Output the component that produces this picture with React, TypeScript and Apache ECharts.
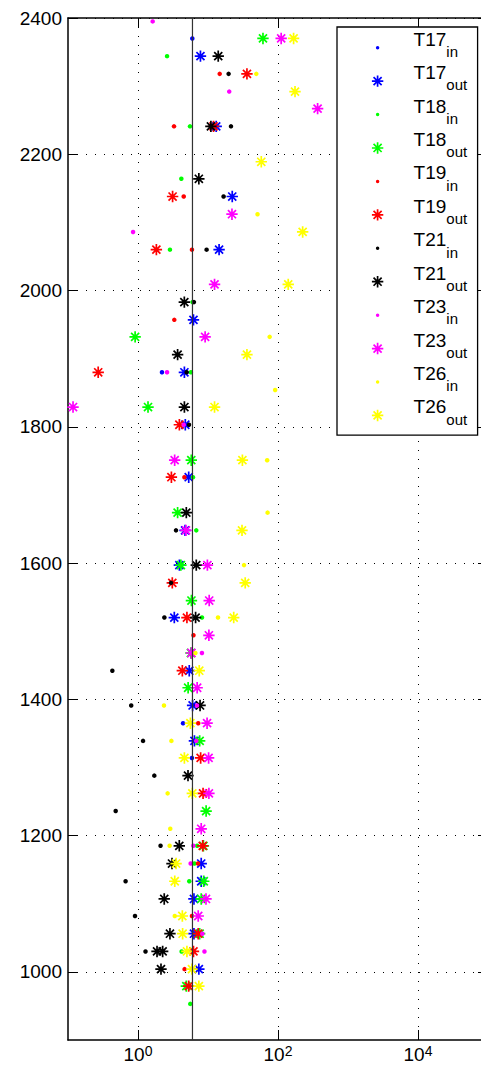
import React, { useEffect, useRef } from "react";
import * as echarts from "echarts";

// ---- data: [value, depth] ----
const SERIES_NAMES = ["T17in", "T17out", "T18in", "T18out", "T19in", "T19out", "T21in", "T21out", "T23in", "T23out", "T26in", "T26out"];
const SERIES_COLORS = ["#0000ff", "#0000ff", "#00ff00", "#00ff00", "#ff0000", "#ff0000", "#000000", "#000000", "#ff00ff", "#ff00ff", "#ffff00", "#ffff00"];

const T17_IN = [[5.97, 2370], [2.2, 1880], [4.4, 1365], [5.9, 1314]];
const T17_OUT = [[7.8, 2344], [13.1, 2241], [22.2, 2138], [14.4, 2060], [6.2, 1957], [4.6, 1880], [4.74, 1803], [5.3, 1726], [4.7, 1648], [3.9, 1597], [3.3, 1520], [5.4, 1442], [6.03, 1391], [6.4, 1339], [8.0, 1159], [8.0, 1133], [6.3, 1107], [6.3, 1056], [7.4, 1004]];
const T18_IN = [[2.6, 2344], [5.53, 2241], [4.16, 2164], [2.86, 2060], [6.0, 1983], [5.7, 1880], [6.1, 1726], [6.8, 1648], [8.2, 1520], [7.0, 1185], [6.4, 1159], [5.4, 1133], [4.2, 1030], [5.58, 953]];
const T18_OUT = [[61, 2370], [0.91, 1932], [1.39, 1829], [5.77, 1751], [3.68, 1674], [4.1, 1597], [5.8, 1545], [5.7, 1468], [5.2, 1417], [7.6, 1339], [9.4, 1236], [8.6, 1185], [8.7, 1133], [8.0, 1107], [7.6, 1056], [4.9, 979]];
const T19_IN = [[14.7, 2318], [3.27, 2241], [4.5, 2138], [5.9, 2060], [3.3, 1957], [4.6, 1726], [6.2, 1494], [7.25, 1365], [7.2, 1159], [5.9, 1082], [4.63, 1004]];
const T19_OUT = [[36, 2318], [12.0, 2241], [3.12, 2138], [1.83, 2060], [0.27, 1880], [3.9, 1803], [3.0, 1726], [3.09, 1571], [5.0, 1520], [4.3, 1442], [7.85, 1314], [8.5, 1262], [8.4, 1185], [7.25, 1056], [6.2, 1030], [5.3, 979]];
const T21_IN = [[19.7, 2318], [21.3, 2241], [16.7, 2138], [9.55, 2060], [6.3, 1983], [4.95, 1880], [5.35, 1803], [3.49, 1648], [2.96, 1571], [2.38, 1520], [0.43, 1442], [0.8, 1391], [1.18, 1339], [1.71, 1288], [0.48, 1236], [2.1, 1185], [0.665, 1133], [0.906, 1082], [1.28, 1030]];
const T21_OUT = [[14.0, 2344], [11.0, 2241], [7.4, 2164], [4.59, 1983], [3.68, 1906], [4.6, 1829], [4.9, 1674], [6.8, 1597], [6.65, 1520], [7.7, 1391], [5.18, 1288], [3.89, 1185], [3.06, 1159], [2.37, 1107], [2.86, 1056], [1.87, 1030], [2.25, 1030], [2.13, 1004]];
const T23_IN = [[1.62, 2395], [20.1, 2292], [0.85, 2086], [2.6, 1880], [4.5, 1803], [8.2, 1468], [6.96, 1391], [6.8, 1339], [6.17, 1185], [5.65, 1159], [8.3, 1056], [8.9, 1030]];
const T23_OUT = [[111, 2370], [368, 2267], [22, 2112], [12.4, 2009], [9.1, 1932], [0.118, 1829], [3.34, 1751], [4.85, 1648], [9.8, 1597], [10.4, 1545], [10.3, 1494], [5.8, 1468], [7.0, 1417], [9.7, 1365], [10.2, 1314], [10.3, 1262], [8.0, 1210], [9.36, 1107], [7.25, 1082]];
const T26_IN = [[49, 2318], [51, 2112], [76, 1932], [91, 1854], [70, 1751], [71, 1674], [32.7, 1597], [13.9, 1520], [6.6, 1468], [2.35, 1391], [3.0, 1339], [2.65, 1262], [2.89, 1210], [2.83, 1185], [3.35, 1082]];
const T26_OUT = [[167, 2370], [175, 2292], [57.7, 2189], [225, 2086], [140, 2009], [36, 1906], [12.4, 1829], [31, 1751], [30.6, 1648], [34, 1571], [23.3, 1520], [7.5, 1442], [5.6, 1365], [4.6, 1314], [5.97, 1262], [3.5, 1159], [3.35, 1133], [4.3, 1082], [4.34, 1056], [5.0, 1030], [5.9, 1004], [7.4, 979]];

const SERIES_DATA = [T17_IN, T17_OUT, T18_IN, T18_OUT, T19_IN, T19_OUT, T21_IN, T21_OUT, T23_IN, T23_OUT, T26_IN, T26_OUT];

const X_MIN = 0.1;
const X_MAX = 100000;
const X_TICKS = [1, 100, 10000];
const Y_MIN = 900;
const Y_MAX = 2400;
const Y_TICKS = [1000, 1200, 1400, 1600, 1800, 2000, 2200, 2400];
const REF_VALUE = 6;

// ---- symbols ----
function starPath(box: number, arm: number, halfW: number): string {
  const c = box / 2;
  let d = `M0,0M${box},${box}`;
  [0, 45, 90, 135].forEach((deg) => {
    const a = (deg * Math.PI) / 180;
    const ux = Math.cos(a), uy = Math.sin(a);
    const vx = -uy, vy = ux;
    const p = [
      [c + ux * arm + vx * halfW, c + uy * arm + vy * halfW],
      [c - ux * arm + vx * halfW, c - uy * arm + vy * halfW],
      [c - ux * arm - vx * halfW, c - uy * arm - vy * halfW],
      [c + ux * arm - vx * halfW, c + uy * arm - vy * halfW],
    ];
    d += `M${p[0][0].toFixed(3)},${p[0][1].toFixed(3)}`;
    for (let i = 1; i < 4; i++) d += `L${p[i][0].toFixed(3)},${p[i][1].toFixed(3)}`;
    d += "Z";
  });
  return "path://" + d;
}
function dotPath(box: number, r: number): string {
  const c = box / 2;
  return `path://M0,0M${box},${box}M${c},${c - r}A${r},${r},0,1,1,${c},${c + r}A${r},${r},0,1,1,${c},${c - r}Z`;
}
const STAR = starPath(12, 5.7, 0.85);
const LEGEND_DOT = dotPath(12, 1.75);

const FONT = "'Liberation Sans', Arial, Helvetica, sans-serif";

export default function App() {
  const ref = useRef<HTMLDivElement>(null);
  useEffect(() => {
    document.body.style.margin = "0";
    if (!ref.current) return;
    const chart = echarts.init(ref.current, null, { renderer: "svg" });

    const axisLineStyle = { color: "#000", width: 1.5 };
    const gridDots = { color: "#000", width: 1, type: [1, 8] as any };

    const series: any[] = SERIES_NAMES.map((name, i) => {
      const isIn = name.endsWith("in");
      return {
        name,
        type: "scatter",
        data: SERIES_DATA[i],
        symbol: isIn ? "circle" : STAR,
        symbolSize: isIn ? 4.5 : 12,
        itemStyle: { color: SERIES_COLORS[i], opacity: 1 },
        silent: true,
        z: 2,
      };
    });
    series.push({
      name: "ref",
      type: "line",
      data: [[REF_VALUE, Y_MIN], [REF_VALUE, Y_MAX]],
      symbol: "none",
      lineStyle: { color: "#333", width: 1.2 },
      silent: true,
      z: 5,
    });

    chart.setOption({
      animation: false,
      textStyle: { fontFamily: FONT },
      grid: { left: 68, top: 18, width: 420, height: 1022, containLabel: false, outerBoundsMode: "none" },
      xAxis: [
        {
          type: "log",
          logBase: 10,
          min: X_MIN,
          max: X_MAX,
          position: "bottom",
          axisLine: { show: true, lineStyle: axisLineStyle },
          axisTick: { show: true, inside: true, length: 10, customValues: X_TICKS, lineStyle: { color: "#000", width: 1 } },
          minorTick: { show: false },
          axisLabel: {
            show: true,
            customValues: X_TICKS,
            margin: 3,
            formatter: (v: number) => `{b|10}{s|${Math.round(Math.log10(v))}}`,
            rich: {
              b: { fontSize: 19, lineHeight: 22, color: "#000", fontFamily: FONT, verticalAlign: "middle" },
              s: { fontSize: 14, lineHeight: 22, color: "#000", fontFamily: FONT, verticalAlign: "middle", padding: [0, 0, 7, 0] },
            },
          },
          splitLine: { show: true, lineStyle: gridDots },
        },
        {
          type: "log",
          logBase: 10,
          min: X_MIN,
          max: X_MAX,
          position: "top",
          axisLine: { show: true, lineStyle: axisLineStyle },
          axisTick: { show: true, inside: true, length: 10, customValues: X_TICKS, lineStyle: { color: "#000", width: 1 } },
          axisLabel: { show: false },
          splitLine: { show: false },
        },
      ],
      yAxis: [
        {
          type: "value",
          min: Y_MIN,
          max: Y_MAX,
          position: "left",
          axisLine: { show: true, lineStyle: axisLineStyle },
          axisTick: { show: true, inside: true, length: 10, customValues: Y_TICKS, lineStyle: { color: "#000", width: 1 } },
          axisLabel: { show: true, customValues: Y_TICKS, margin: 6, fontSize: 19, color: "#000", fontFamily: FONT, formatter: (v: number) => String(v) },
          splitLine: { show: true, lineStyle: gridDots },
        },
        {
          type: "value",
          min: Y_MIN,
          max: Y_MAX,
          position: "right",
          axisLine: { show: true, lineStyle: axisLineStyle },
          axisTick: { show: true, inside: true, length: 10, customValues: Y_TICKS, lineStyle: { color: "#000", width: 1 } },
          axisLabel: { show: false },
          splitLine: { show: false },
        },
      ],
      legend: {
        orient: "vertical",
        left: 337,
        top: 27,
        padding: [2.7, 10.4, 1.6, 34.6],
        itemWidth: 62,
        itemHeight: 12,
        itemGap: -2.57,
        borderColor: "#000",
        borderWidth: 1.3,
        backgroundColor: "#fff",
        selectedMode: false,
        data: SERIES_NAMES.map((n) => ({ name: n, icon: n.endsWith("in") ? LEGEND_DOT : STAR })),
        formatter: (n: string) => `{m|${n.slice(0, 3)}}{s|${n.slice(3)}}`,
        textStyle: {
          rich: {
            m: { fontSize: 19, lineHeight: 33.4, color: "#000", fontFamily: FONT, verticalAlign: "middle", padding: [0, 0, 17, 0] },
            s: { fontSize: 15, lineHeight: 33.4, color: "#000", fontFamily: FONT, verticalAlign: "middle", padding: [7.6, 0, 0, 0] },
          },
        },
      },
      series,
    });
    return () => chart.dispose();
  }, []);
  return <div ref={ref} style={{ position: "absolute", left: 0, top: 0, width: 481, height: 1075 }} />;
}
